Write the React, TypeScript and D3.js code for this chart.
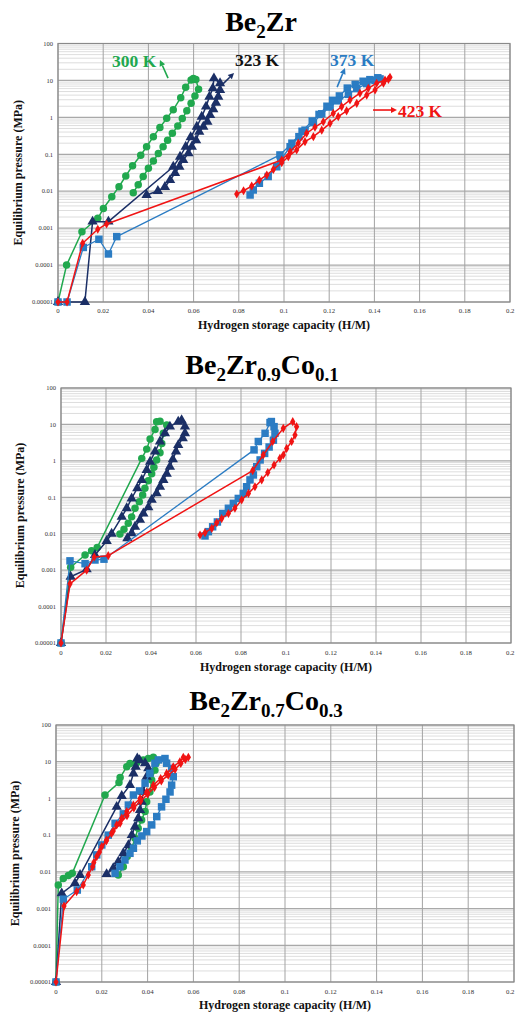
import React from "react";
import * as d3 from "d3";

type Pt = [number, number];

// ---------- axis ticks ----------
const xTicks = [0, 0.02, 0.04, 0.06, 0.08, 0.1, 0.12, 0.14, 0.16, 0.18, 0.2];
const xTickLabels = ["0", "0.02", "0.04", "0.06", "0.08", "0.1", "0.12", "0.14", "0.16", "0.18", "0.2"];
const yTicks = [100, 10, 1, 0.1, 0.01, 0.001, 0.0001, 0.00001];
const yTickLabels = ["100", "10", "1", "0.1", "0.01", "0.001", "0.0001", "0.00001"];
const xTitle = "Hydrogen storage capacity (H/M)";
const yTitle = "Equilibrium pressure (MPa)";
const tempLabels = ["300 K", "323 K", "373 K", "423 K"];

// ---------- Panel 1: Be2Zr ----------
const p1Green: Pt[] = [[0,1e-5],[0.0038,1e-4],[0.0106,0.0008],[0.0176,0.00185],[0.0201,0.0034],[0.0238,0.0071],[0.027,0.0132],[0.030,0.026],[0.033,0.049],[0.0366,0.094],[0.0392,0.16],[0.0422,0.30],[0.0451,0.53],[0.0481,0.94],[0.051,1.6],[0.0543,3.4],[0.0565,6.5],[0.0589,10.3],[0.0599,11.2],[0.061,10.6],[0.0622,5.8],[0.0606,3.8],[0.0589,2.4],[0.057,1.5],[0.055,0.93],[0.053,0.58],[0.0506,0.37],[0.0485,0.24],[0.0465,0.16],[0.0444,0.105],[0.0422,0.066],[0.04,0.042],[0.0377,0.025],[0.0355,0.015],[0.0333,0.0091]];
const p1Navy: Pt[] = [[0,1e-5],[0.0119,1e-5],[0.0153,0.0015],[0.0223,0.0015],[0.051,0.046],[0.054,0.086],[0.0565,0.16],[0.0587,0.29],[0.0614,0.56],[0.0636,1.04],[0.0655,1.95],[0.067,3.6],[0.0685,6.1],[0.069,11.4],[0.0717,8.4],[0.0717,5.5],[0.0709,3.6],[0.0699,2.5],[0.0687,1.65],[0.0673,1.16],[0.0661,0.76],[0.0643,0.56],[0.0625,0.41],[0.0611,0.24],[0.0592,0.16],[0.0577,0.106],[0.0554,0.07],[0.0537,0.046],[0.0518,0.031],[0.0496,0.020],[0.0473,0.013],[0.0442,0.0101],[0.0392,0.0079]];
const p1Blue: Pt[] = [[0,1e-5],[0.004,1e-5],[0.0112,0.0003],[0.0181,0.0005],[0.0223,0.0002],[0.026,0.00059],[0.0982,0.096],[0.1035,0.2],[0.108,0.42],[0.1125,0.8],[0.1155,1.2],[0.119,2.0],[0.1215,2.9],[0.1245,3.8],[0.128,6.2],[0.1315,7.8],[0.135,9.5],[0.138,10.5],[0.1415,11.8],[0.1425,11],[0.1403,10],[0.1366,8.2],[0.1322,6.0],[0.1285,4.2],[0.124,2.8],[0.1204,1.9],[0.1167,1.25],[0.113,0.72],[0.1093,0.45],[0.1066,0.3],[0.1027,0.16],[0.0985,0.07],[0.0968,0.046],[0.093,0.025],[0.0891,0.0164],[0.0864,0.0108],[0.085,0.0079]];
const p1Red: Pt[] = [[0,1e-5],[0.004,1e-5],[0.0109,0.00039],[0.0176,0.00093],[0.0215,0.0013],[0.099,0.07],[0.1027,0.117],[0.1063,0.2],[0.11,0.37],[0.1137,0.54],[0.1174,0.76],[0.1218,1.29],[0.1255,1.95],[0.1292,2.95],[0.1336,4.5],[0.1373,6.1],[0.141,8.4],[0.1447,10.3],[0.1469,12.2],[0.1462,10.7],[0.144,8.4],[0.1403,5.5],[0.1366,4.0],[0.1322,2.4],[0.1277,1.5],[0.124,1.05],[0.1204,0.69],[0.1167,0.45],[0.113,0.30],[0.1093,0.22],[0.1056,0.131],[0.1019,0.086],[0.099,0.059],[0.0953,0.039],[0.0924,0.0275],[0.0891,0.02],[0.0857,0.0138],[0.0821,0.0103],[0.0791,0.0084]];

// ---------- Panel 2: Be2Zr0.9Co0.1 ----------
const p2Green: Pt[] = [[0,1e-5],[0.0043,0.0012],[0.0107,0.0026],[0.0136,0.0034],[0.0161,0.0042],[0.0359,1.17],[0.0381,2.1],[0.0396,4.0],[0.0418,7.3],[0.0425,11.9],[0.044,12.3],[0.047,9.6],[0.0455,5.7],[0.0448,3.0],[0.044,1.67],[0.0425,1.06],[0.0413,0.67],[0.0403,0.44],[0.0388,0.285],[0.0373,0.177],[0.0363,0.116],[0.0348,0.076],[0.0329,0.05],[0.0314,0.029],[0.0299,0.0193],[0.028,0.0132],[0.0262,0.0098]];
const p2Navy: Pt[] = [[0,1e-5],[0.0043,0.00066],[0.0114,0.00105],[0.0151,0.0026],[0.0203,0.0063],[0.0225,0.01],[0.027,0.029],[0.0292,0.05],[0.0314,0.093],[0.0339,0.177],[0.0359,0.3],[0.0381,0.56],[0.0396,0.95],[0.0418,1.79],[0.044,3.4],[0.0462,5.7],[0.0484,8.7],[0.0521,11.9],[0.0536,13],[0.0551,8.7],[0.0551,5.7],[0.0541,4.2],[0.0521,2.7],[0.0511,1.79],[0.0497,1.1],[0.0484,0.69],[0.047,0.44],[0.0455,0.3],[0.044,0.195],[0.0425,0.128],[0.0403,0.085],[0.0388,0.053],[0.0366,0.036],[0.0351,0.024],[0.0329,0.0155],[0.0314,0.0103],[0.0295,0.0075]];
const p2Blue: Pt[] = [[0,1e-5],[0.004,0.0018],[0.0107,0.0015],[0.0151,0.0019],[0.0191,0.002],[0.0858,2.0],[0.0877,3.4],[0.0907,5.7],[0.0929,11.2],[0.0935,12],[0.0947,8.7],[0.0951,5.7],[0.0944,3.7],[0.0925,2.4],[0.0905,1.6],[0.0885,1.06],[0.087,0.69],[0.0855,0.41],[0.084,0.3],[0.0825,0.195],[0.081,0.128],[0.0788,0.093],[0.0766,0.068],[0.0744,0.05],[0.0719,0.036],[0.0695,0.021],[0.0674,0.0155],[0.0655,0.0114],[0.064,0.0087]];
const p2Red: Pt[] = [[0,1e-5],[0.004,0.00042],[0.0114,0.001],[0.0148,0.0023],[0.021,0.0025],[0.0852,0.54],[0.0899,1.45],[0.0941,3.4],[0.0988,7.8],[0.103,11.9],[0.1047,8.7],[0.104,5.1],[0.1025,3.4],[0.1003,2.2],[0.0988,1.45],[0.0973,1.17],[0.0947,0.77],[0.0919,0.48],[0.0892,0.3],[0.0862,0.195],[0.0833,0.128],[0.0803,0.085],[0.0773,0.05],[0.0744,0.036],[0.0714,0.026],[0.0692,0.02],[0.067,0.014],[0.064,0.0107],[0.0618,0.0092]];

// ---------- Panel 3: Be2Zr0.7Co0.3 ----------
const p3Green: Pt[] = [[0,1e-5],[0.001,0.0044],[0.0032,0.0066],[0.0054,0.0079],[0.0071,0.0091],[0.0214,1.24],[0.0275,2.7],[0.028,3.7],[0.0309,7.3],[0.0323,9.0],[0.0352,9.4],[0.0381,11.2],[0.0403,12.2],[0.0425,13.2],[0.0437,9.1],[0.0432,5.9],[0.0418,3.2],[0.041,1.5],[0.0396,0.81],[0.0389,0.44],[0.0374,0.26],[0.0359,0.155],[0.0345,0.082],[0.0331,0.044],[0.0311,0.026],[0.0294,0.0138],[0.0272,0.0082]];
const p3Navy: Pt[] = [[0,1e-5],[0.0025,0.0026],[0.0083,0.0049],[0.0105,0.0082],[0.0265,0.59],[0.0287,1.16],[0.0323,2.3],[0.0338,4.8],[0.0348,7.3],[0.0355,12.3],[0.0365,11],[0.0389,9.1],[0.0403,6.6],[0.0396,3.9],[0.0381,1.5],[0.0374,0.81],[0.0367,0.48],[0.0359,0.29],[0.0345,0.17],[0.0331,0.1],[0.0316,0.053],[0.0294,0.032],[0.0272,0.019],[0.025,0.0125],[0.0221,0.0087]];
const p3Blue: Pt[] = [[0,1e-5],[0.0032,0.0018],[0.0093,0.0032],[0.0156,0.0138],[0.0178,0.029],[0.02,0.054],[0.0228,0.1],[0.0258,0.21],[0.0294,0.38],[0.0316,0.66],[0.0338,1.24],[0.0365,1.6],[0.0389,2.6],[0.041,4.8],[0.0432,9.1],[0.0447,11.2],[0.0476,12.2],[0.0483,9.1],[0.0505,6.6],[0.0512,3.9],[0.0505,2.3],[0.0498,1.5],[0.048,0.95],[0.0461,0.59],[0.044,0.32],[0.0418,0.19],[0.0396,0.125],[0.0375,0.095],[0.0355,0.07],[0.0338,0.044],[0.0323,0.032],[0.0301,0.021],[0.0279,0.0138],[0.0258,0.0091]];
const p3Red: Pt[] = [[0,1e-5],[0.0035,0.00117],[0.009,0.0029],[0.0119,0.0044],[0.0141,0.0082],[0.016,0.0138],[0.0178,0.026],[0.02,0.049],[0.0221,0.074],[0.0243,0.112],[0.0265,0.19],[0.0287,0.29],[0.0309,0.44],[0.0338,0.66],[0.0367,1.0],[0.0396,1.5],[0.0425,2.3],[0.0457,3.5],[0.0483,4.8],[0.0512,7.3],[0.0541,10],[0.0556,13.2],[0.0578,13.2],[0.0565,11.5],[0.0545,9.0],[0.052,6.2],[0.049,4.3],[0.046,3.0],[0.043,2.0],[0.04,1.3],[0.037,0.85],[0.034,0.55],[0.031,0.34],[0.028,0.21],[0.025,0.13],[0.022,0.07],[0.019,0.035],[0.0165,0.018]];

// ---------- annotations (panel 1, data coordinates) ----------
const annArrows: { from: Pt; to: Pt }[] = [
  { from: [0.0487, 11.6], to: [0.0451, 35.7] },
  { from: [0.0721, 7.1], to: [0.0779, 15.9] },
  { from: [0.1235, 6.6], to: [0.127, 21.7] },
  { from: [0.1394, 1.58], to: [0.1500, 1.58] },
];
const annLabels: Pt[] = [[0.0239, 23.8], [0.0783, 24.6], [0.1204, 24.6], [0.1504, 1.02]];

// ---------- styles ----------
const COLORS = ["#21a84e", "#1b2f66", "#2b7cc3", "#f01414"];
const LABEL_COLORS = ["#21a84e", "#111111", "#2b7cc3", "#f01414"];
const SYMBOLS = [d3.symbolCircle, d3.symbolTriangle, d3.symbolSquare, d3.symbolDiamond];
const SYM_SIZES = [44, 46, 56, 24];
const LINE_W = [1.5, 1.5, 1.3, 1.5];
const SERIF = "'Liberation Serif', 'Times New Roman', serif";
const PAGE_W = 515;

type Cfg = {
  left: number; right: number; top: number; bottom: number;
  titleX: number; titleY: number; xTickY: number; xTitleY: number; yTitleX: number;
  title: [string, boolean][];
};

const panels: { cfg: Cfg; series: Pt[][]; ann: boolean }[] = [
  {
    cfg: { left: 58, right: 510, top: 43.5, bottom: 302, titleX: 261, titleY: 31, xTickY: 313, xTitleY: 329, yTitleX: 18, title: [["Be", false], ["2", true], ["Zr", false]] },
    series: [p1Green, p1Navy, p1Blue, p1Red], ann: true,
  },
  {
    cfg: { left: 61, right: 511, top: 388, bottom: 643, titleX: 262, titleY: 374, xTickY: 655, xTitleY: 671, yTitleX: 20, title: [["Be", false], ["2", true], ["Zr", false], ["0.9", true], ["Co", false], ["0.1", true]] },
    series: [p2Green, p2Navy, p2Blue, p2Red], ann: false,
  },
  {
    cfg: { left: 56, right: 514, top: 725, bottom: 982, titleX: 266, titleY: 710, xTickY: 994, xTitleY: 1009, yTitleX: 15, title: [["Be", false], ["2", true], ["Zr", false], ["0.7", true], ["Co", false], ["0.3", true]] },
    series: [p3Green, p3Navy, p3Blue, p3Red], ann: false,
  },
];

function Panel({ cfg, series, ann }: { cfg: Cfg; series: Pt[][]; ann: boolean }) {
  const x = d3.scaleLinear().domain([0, 0.2]).range([cfg.left, cfg.right]);
  const y = d3.scaleLog().domain([1e-5, 100]).range([cfg.bottom, cfg.top]);
  const minor: number[] = [];
  for (let k = -5; k <= 1; k++) for (let m = 2; m <= 9; m++) minor.push(m * Math.pow(10, k));
  const line = d3.line<Pt>().x((d) => x(d[0])).y((d) => y(d[1]));
  const midY = (cfg.top + cfg.bottom) / 2;
  const midX = (cfg.left + cfg.right) / 2;
  return (
    <g>
      <text x={cfg.titleX} y={cfg.titleY} textAnchor="middle" fontFamily={SERIF} fontWeight="bold" fontSize={28} fill="#000">
        {cfg.title.map(([t, sub], i) => {
          const prevSub = i > 0 && cfg.title[i - 1][1];
          const dy = sub && !prevSub ? 7 : !sub && prevSub ? -7 : 0;
          return (
            <tspan key={i} dy={dy} fontSize={sub ? 19 : 28}>{t}</tspan>
          );
        })}
      </text>
      <rect x={cfg.left} y={cfg.top} width={cfg.right - cfg.left} height={cfg.bottom - cfg.top} fill="#fff" />
      {minor.map((v, i) => (
        <line key={"m" + i} x1={cfg.left} x2={cfg.right} y1={y(v)} y2={y(v)} stroke="#d4d4d4" strokeWidth={0.8} />
      ))}
      {yTicks.map((v, i) => (
        <line key={"M" + i} x1={cfg.left} x2={cfg.right} y1={y(v)} y2={y(v)} stroke="#a9a9a9" strokeWidth={1.2} />
      ))}
      {xTicks.map((v, i) => (
        <line key={"v" + i} x1={x(v)} x2={x(v)} y1={cfg.top} y2={cfg.bottom} stroke="#a3a3a3" strokeWidth={1} />
      ))}
      <rect x={cfg.left} y={cfg.top} width={cfg.right - cfg.left} height={cfg.bottom - cfg.top} fill="none" stroke="#8a8a8a" strokeWidth={1.2} />
      {yTicks.map((v, i) => (
        <text key={"yl" + i} x={cfg.left - 5} y={y(v)} dy="0.35em" textAnchor="end" fontFamily={SERIF} fontSize={6.5} fill="#333">{yTickLabels[i]}</text>
      ))}
      {xTicks.map((v, i) => {
        const px = x(v);
        const nearEdge = px + 6 > PAGE_W;
        return (
          <text key={"xl" + i} x={nearEdge ? PAGE_W - 0.5 : px} y={cfg.xTickY} textAnchor={nearEdge ? "end" : "middle"} fontFamily={SERIF} fontSize={6.8} fill="#333">{xTickLabels[i]}</text>
        );
      })}
      <text x={midX} y={cfg.xTitleY} textAnchor="middle" fontFamily={SERIF} fontWeight="bold" fontSize={12} fill="#111">{xTitle}</text>
      <text transform={`translate(${cfg.yTitleX},${midY}) rotate(-90)`} dy="0.35em" textAnchor="middle" fontFamily={SERIF} fontWeight="bold" fontSize={12} fill="#111">{yTitle}</text>
      {series.map((s, si) => (
        <g key={"s" + si}>
          <path d={line(s) || ""} fill="none" stroke={COLORS[si]} strokeWidth={LINE_W[si]} strokeLinejoin="round" />
          {s.map((p, pi) => (
            <path key={pi} transform={`translate(${x(p[0])},${y(p[1])})`} d={d3.symbol().type(SYMBOLS[si]).size(SYM_SIZES[si])() || ""} fill={COLORS[si]} />
          ))}
        </g>
      ))}
      {ann && (
        <g>
          {annArrows.map((a, i) => {
            const x1 = x(a.from[0]), y1 = y(a.from[1]), x2 = x(a.to[0]), y2 = y(a.to[1]);
            const ang = Math.atan2(y2 - y1, x2 - x1);
            const L = 6, W = 3;
            const bx = x2 - L * Math.cos(ang), by = y2 - L * Math.sin(ang);
            const px = -Math.sin(ang) * W, py = Math.cos(ang) * W;
            return (
              <g key={"a" + i}>
                <line x1={x1} y1={y1} x2={bx} y2={by} stroke={COLORS[i]} strokeWidth={1.6} />
                <polygon points={`${x2},${y2} ${bx + px},${by + py} ${bx - px},${by - py}`} fill={COLORS[i]} />
              </g>
            );
          })}
          {annLabels.map((p, i) => (
            <text key={"t" + i} x={x(p[0])} y={y(p[1])} fontFamily={SERIF} fontWeight="bold" fontSize={17.5} fill={LABEL_COLORS[i]}>{tempLabels[i]}</text>
          ))}
        </g>
      )}
    </g>
  );
}

export default function App() {
  return (
    <svg width={515} height={1012} viewBox="0 0 515 1012" style={{ display: "block", position: "absolute", left: 0, top: 0, background: "#fff" }}>
      <rect x={0} y={0} width={515} height={1012} fill="#fff" />
      {panels.map((p, i) => (
        <Panel key={i} cfg={p.cfg} series={p.series} ann={p.ann} />
      ))}
    </svg>
  );
}
